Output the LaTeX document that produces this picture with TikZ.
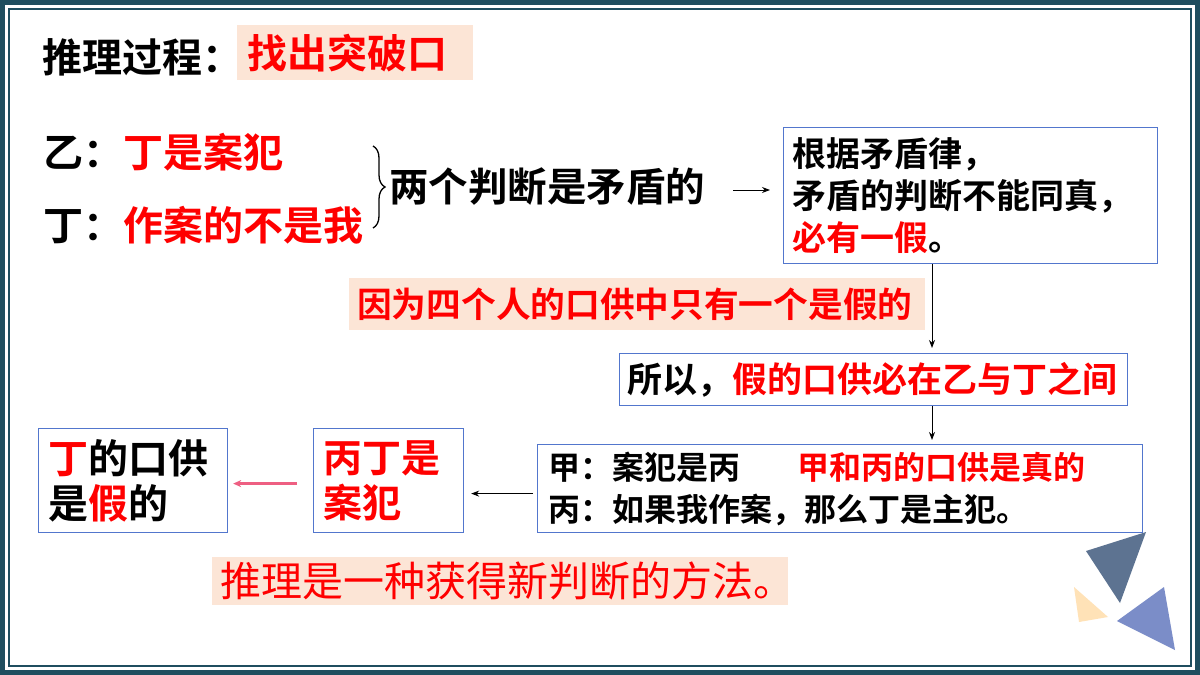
\documentclass[tikz,border=0pt]{standalone}
\usepackage{fontspec}
\newfontfamily\cjk{Noto Sans CJK SC}[BoldFont=* Bold]
\usetikzlibrary{decorations.pathreplacing,arrows.meta}
\definecolor{frmcol}{RGB}{31,78,95}
\definecolor{peach}{RGB}{252,229,214}
\definecolor{boxblue}{RGB}{82,118,205}
\definecolor{myred}{RGB}{255,0,0}
\definecolor{pinkarr}{RGB}{238,95,130}
\definecolor{tridark}{RGB}{93,115,145}
\definecolor{trilight}{RGB}{255,226,183}
\definecolor{triblue}{RGB}{123,141,200}
\begin{document}
\begin{tikzpicture}[x=1pt,y=-1pt,
  txt/.style={inner sep=0pt, anchor=west, font=\cjk\bfseries\fontsize{#1}{#1}\selectfont},
  hl/.style={fill=peach, inner ysep=0pt, anchor=north west, align=left},
  bx/.style={draw=boxblue, line width=1.2pt, fill=white, inner ysep=0pt, anchor=north west, align=left},
  arr/.style={-{Stealth[length=8pt,width=6pt]}, line width=1pt, black},
  parr/.style={-{Stealth[length=8pt,width=7pt]}, line width=2.5pt, pinkarr}]
\useasboundingbox (0,0) rectangle (1200,675);
% frame
\fill[frmcol] (0,0) rectangle (1200,675);
\fill[white] (5,5) rectangle (1195,670);
\draw[frmcol, line width=2pt] (9,9) rectangle (1191,666);
% title
\node[txt=40] (title) at (42,57) {推理过程：};
\node[hl, minimum width=236pt, minimum height=55pt, inner xsep=10pt, text width=216pt,
  font=\cjk\bfseries\fontsize{40}{48}\selectfont, text=myred] (key) at (237,25) {找出突破口};
% statements
\node[txt=40] (yi) at (43,152) {乙：\textcolor{myred}{丁是案犯}};
\node[txt=40] (ding) at (43,225) {丁：\textcolor{myred}{作案的不是我}};
\coordinate (br1) at (373,146);
\coordinate (br2) at (373,228);
\draw[decorate, decoration={brace, amplitude=12pt}, line width=1.3pt] (br1) -- (br2);
\node[txt=39.5] (j) at (389,187) {两个判断是矛盾的};
% box 1
\node[bx, minimum width=374pt, minimum height=136pt, inner xsep=9pt, text width=356pt,
  font=\cjk\bfseries\fontsize{34}{42}\selectfont] (b1) at (783,127)
  {根据矛盾律，\\矛盾的判断不能同真，\\\textcolor{myred}{必有一假}。};
\draw[arr] ([xshift=28pt,yshift=-3pt]j.east) -- ([xshift=-13pt,yshift=-3pt]j.east -| b1.west);
% highlight 2
\node[hl, minimum width=576pt, minimum height=52pt, inner xsep=8pt, text width=560pt,
  font=\cjk\bfseries\fontsize{34.7}{40}\selectfont, text=myred] (why) at (349,278)
  {因为四个人的口供中只有一个是假的};
% box 2
\node[bx, minimum width=508pt, minimum height=52pt, inner xsep=8pt, text width=492pt,
  font=\cjk\bfseries\fontsize{35}{40}\selectfont] (b2) at (619,353)
  {所以，\textcolor{myred}{假的口供必在乙与丁之间}};
% box 3
\node[bx, minimum width=605pt, minimum height=88pt, inner xsep=11pt, text width=583pt,
  font=\cjk\bfseries\fontsize{32}{42}\selectfont] (b3) at (537,444)
  {甲：案犯是丙\hspace{57pt}\textcolor{myred}{甲和丙的口供是真的}\\丙：如果我作案，那么丁是主犯。};
% box 4
\node[bx, minimum width=150pt, minimum height=104pt, inner xsep=10pt, text width=130pt,
  font=\cjk\bfseries\fontsize{39}{45}\selectfont, text=myred] (b4) at (313,428)
  {丙丁是\\案犯};
% box 5
\node[bx, minimum width=189pt, minimum height=104pt, inner xsep=10pt, text width=169pt,
  font=\cjk\bfseries\fontsize{40}{45}\selectfont] (b5) at (38,428)
  {\textcolor{myred}{丁}的口供\\是\textcolor{myred}{假}的};
% bottom highlight
\node[hl, minimum width=576pt, minimum height=48pt, inner xsep=8pt, text width=560pt,
  font=\cjk\fontsize{41}{46}\selectfont, text=myred] (concl) at (212,557)
  {推理是一种获得新判断的方法。};
% vertical arrows
\coordinate (ax) at (932,0);
\coordinate (b2top) at ([yshift=5pt]b2.north);
\coordinate (b3top) at ([yshift=4pt]b3.north);
\draw[arr] (b1.south -| ax) -- (b2top -| ax);
\draw[arr] (b2.south -| ax) -- (b3top -| ax);
% horizontal arrows
\draw[arr] ([xshift=-4pt,yshift=-5pt]b3.west) -- ([xshift=7pt,yshift=-5pt]b3.west -| b4.east);
\draw[parr] ([xshift=-16pt,yshift=-3pt]b4.west) -- ([xshift=5pt,yshift=-3pt]b4.west -| b5.east);
% decorative triangles
\fill[tridark] (1086,551) -- (1146,532) -- (1120,603) -- cycle;
\fill[trilight] (1074,587) -- (1079,622) -- (1108,617) -- cycle;
\fill[triblue] (1117,621) -- (1164,587) -- (1175,650) -- cycle;
\end{tikzpicture}
\end{document}
